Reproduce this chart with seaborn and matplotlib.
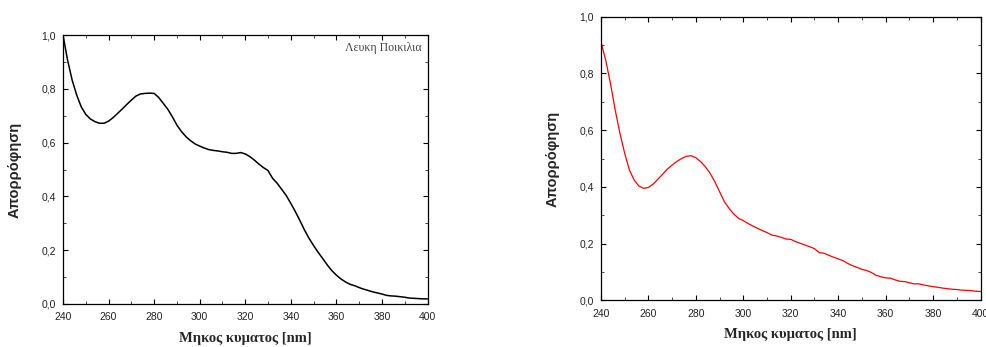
import numpy as np
import pandas as pd
import matplotlib
matplotlib.use("Agg")
import matplotlib.pyplot as plt
import seaborn as sns
from matplotlib.ticker import MultipleLocator, FuncFormatter

wavelength = list(range(240, 401, 2))

absorb_white = [1.000, 0.907, 0.833, 0.777, 0.733, 0.705, 0.688, 0.678, 0.672, 0.672,
                0.680, 0.693, 0.709, 0.725, 0.742, 0.758, 0.773, 0.781, 0.783, 0.784,
                0.783, 0.768, 0.746, 0.724, 0.696, 0.665, 0.641, 0.622, 0.607, 0.595,
                0.587, 0.580, 0.574, 0.571, 0.569, 0.566, 0.564, 0.560, 0.560, 0.563,
                0.558, 0.548, 0.535, 0.520, 0.507, 0.496, 0.467, 0.449, 0.426, 0.403,
                0.374, 0.343, 0.310, 0.275, 0.244, 0.217, 0.192, 0.169, 0.145, 0.124,
                0.107, 0.093, 0.082, 0.073, 0.068, 0.061, 0.055, 0.050, 0.045, 0.041,
                0.037, 0.032, 0.030, 0.029, 0.027, 0.025, 0.022, 0.021, 0.020, 0.019,
                0.019]

absorb_red = [0.912, 0.847, 0.765, 0.671, 0.589, 0.518, 0.459, 0.424, 0.403, 0.395,
              0.398, 0.410, 0.427, 0.445, 0.463, 0.477, 0.490, 0.500, 0.508, 0.510,
              0.503, 0.489, 0.471, 0.448, 0.418, 0.383, 0.348, 0.324, 0.304, 0.289,
              0.281, 0.271, 0.262, 0.254, 0.246, 0.239, 0.230, 0.227, 0.222, 0.216,
              0.215, 0.207, 0.201, 0.195, 0.189, 0.182, 0.168, 0.166, 0.159, 0.152,
              0.146, 0.140, 0.130, 0.122, 0.116, 0.109, 0.105, 0.098, 0.088, 0.083,
              0.079, 0.078, 0.072, 0.067, 0.066, 0.062, 0.058, 0.058, 0.054, 0.051,
              0.048, 0.046, 0.043, 0.041, 0.039, 0.038, 0.036, 0.035, 0.034, 0.032,
              0.031]

xlabel = "Μηκος κυματος [nm]"
ylabel = "Απορρόφηση"
annotation = "Λευκη Ποικιλια"

sns.set_style("ticks")
plt.rcParams['font.family'] = ['Liberation Sans', 'DejaVu Sans']

fig = plt.figure(figsize=(9.86, 3.47), dpi=100)
ax1 = fig.add_axes([0.0639, 0.124, 0.3697, 0.775])
ax2 = fig.add_axes([0.6095, 0.1346, 0.385, 0.817])

df = pd.DataFrame({"wl": wavelength, "white": absorb_white, "red": absorb_red})

sns.lineplot(data=df, x="wl", y="white", ax=ax1, color="black", linewidth=1.1)
sns.lineplot(data=df, x="wl", y="red", ax=ax2, color="#ff0000", linewidth=0.9)

fmt = FuncFormatter(lambda v, p: f"{v:.1f}".replace(".", ","))
for ax in (ax1, ax2):
    ax.set_xlim(240, 400)
    ax.set_ylim(0, 1.0)
    ax.xaxis.set_major_locator(MultipleLocator(20))
    ax.xaxis.set_minor_locator(MultipleLocator(10))
    ax.yaxis.set_major_locator(MultipleLocator(0.2))
    ax.yaxis.set_minor_locator(MultipleLocator(0.1))
    ax.yaxis.set_major_formatter(fmt)
    ax.tick_params(which="major", direction="in", length=3.5, width=0.8,
                   top=True, right=True, labelsize=7.5, colors="black",
                   labelcolor="#222222")
    ax.tick_params(axis="x", which="major", pad=6)
    ax.tick_params(axis="y", which="major", pad=5)
    ax.tick_params(which="minor", direction="in", length=2, width=0.6,
                   top=True, right=True)
    for s in ax.spines.values():
        s.set_visible(True)
        s.set_linewidth(0.9)
        s.set_color("black")
    ax.set_xlabel(xlabel, fontsize=10.5, fontweight="bold",
                  family=["Liberation Serif"], labelpad=7)
    ax.set_ylabel(ylabel, fontsize=10.5, fontweight="bold", labelpad=14)

ax1.text(0.985, 0.95, annotation, transform=ax1.transAxes, ha="right", va="center",
         fontsize=8.5, family=["Liberation Serif"], color="#444444")

fig.savefig("out.png", dpi=100)
